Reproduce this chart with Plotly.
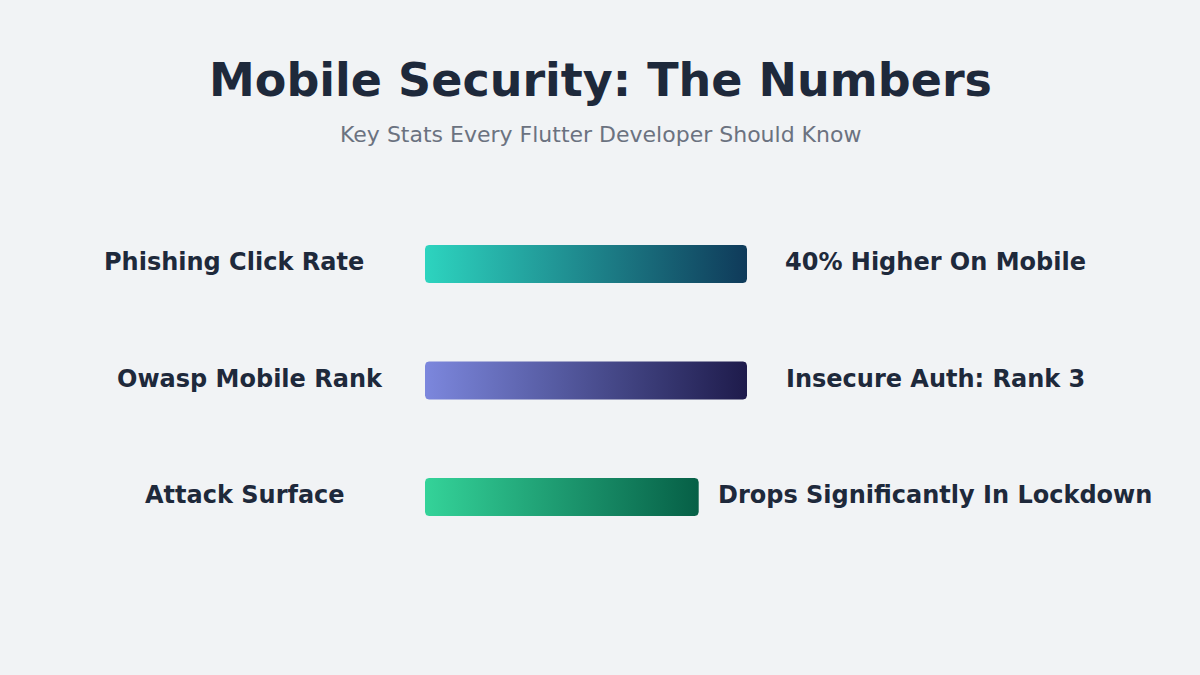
import numpy as np
import plotly.graph_objects as go

# data
categories = ["Phishing Click Rate", "Owasp Mobile Rank", "Attack Surface"]
values = [100, 100, 85]
value_labels = ["40% Higher On Mobile", "Insecure Auth: Rank 3", "Drops Significantly In Lockdown"]
bar_colors = [
    ["#2dd4bf", "#0f3a5a"],
    ["#7c87dd", "#1e1b4b"],
    ["#34d399", "#065f46"],
]

W, H = 1200, 675
x0_px, x100_px = 425, 747      # where value 0 and 100 land
row0_px, row_step = 264, 116.5  # centre of first row, row spacing
bar_h_px = 38
radius_px = 4

px_per_x = (x100_px - x0_px) / 100.0
y_top = -row0_px / row_step
y_bot = (H - row0_px) / row_step


def rounded_bar(v, row):
    rx = radius_px / px_per_x
    ry = radius_px / row_step
    hh = bar_h_px / 2 / row_step
    x_l, x_r = 0, v
    y_t, y_b = row - hh, row + hh
    t = np.linspace(0, np.pi / 2, 8)
    xs, ys = [], []
    # corners: top-right, bottom-right, bottom-left, top-left (y reversed axis)
    for cx, cy, a0 in [(x_r - rx, y_t + ry, -np.pi / 2), (x_r - rx, y_b - ry, 0),
                       (x_l + rx, y_b - ry, np.pi / 2), (x_l + rx, y_t + ry, np.pi)]:
        xs += list(cx + rx * np.cos(a0 + t))
        ys += list(cy + ry * np.sin(a0 + t))
    xs.append(xs[0])
    ys.append(ys[0])
    return xs, ys


fig = go.Figure()
for i, v in enumerate(values):
    xs, ys = rounded_bar(v, i)
    fig.add_trace(go.Scatter(
        x=xs, y=ys, mode="lines", fill="toself",
        line=dict(width=0, color="rgba(0,0,0,0)"),
        fillgradient=dict(type="horizontal",
                          colorscale=[[0, bar_colors[i][0]], [1, bar_colors[i][1]]]),
        hoverinfo="skip", showlegend=False,
    ))

left_centers = [234, 250, 245]
right_center = 935
text_color = "#1e293b"
for i, cat in enumerate(categories):
    ypos = 1 - (row0_px - 2 + i * row_step) / H
    fig.add_annotation(x=left_centers[i] / W, y=ypos, xref="paper", yref="paper",
                       text="<b>" + cat + "</b>", showarrow=False,
                       xanchor="center", yanchor="middle",
                       font=dict(size=24, color=text_color))
    fig.add_annotation(x=right_center / W, y=ypos, xref="paper", yref="paper",
                       text="<b>" + value_labels[i] + "</b>", showarrow=False,
                       xanchor="center", yanchor="middle",
                       font=dict(size=24, color=text_color))

fig.add_annotation(x=0.5, y=1 - 80 / H, xref="paper", yref="paper",
                   text="<b>Mobile Security: The Numbers</b>", showarrow=False,
                   xanchor="center", yanchor="middle",
                   font=dict(size=46, color="#1e293b"))
fig.add_annotation(x=0.5, y=1 - 135 / H, xref="paper", yref="paper",
                   text="Key Stats Every Flutter Developer Should Know", showarrow=False,
                   xanchor="center", yanchor="middle",
                   font=dict(size=22, color="#6b7280"))

fig.update_layout(
    width=W, height=H,
    margin=dict(l=0, r=0, t=0, b=0),
    paper_bgcolor="#f1f3f5", plot_bgcolor="rgba(0,0,0,0)",
    font=dict(family="DejaVu Sans"),
    xaxis=dict(domain=[x0_px / W, x100_px / W], range=[0, 100], visible=False, fixedrange=True),
    yaxis=dict(range=[y_bot, y_top], visible=False, fixedrange=True),
)

fig.write_html("out.html", config={"displayModeBar": False},
               post_script="document.body.style.margin='0';")
